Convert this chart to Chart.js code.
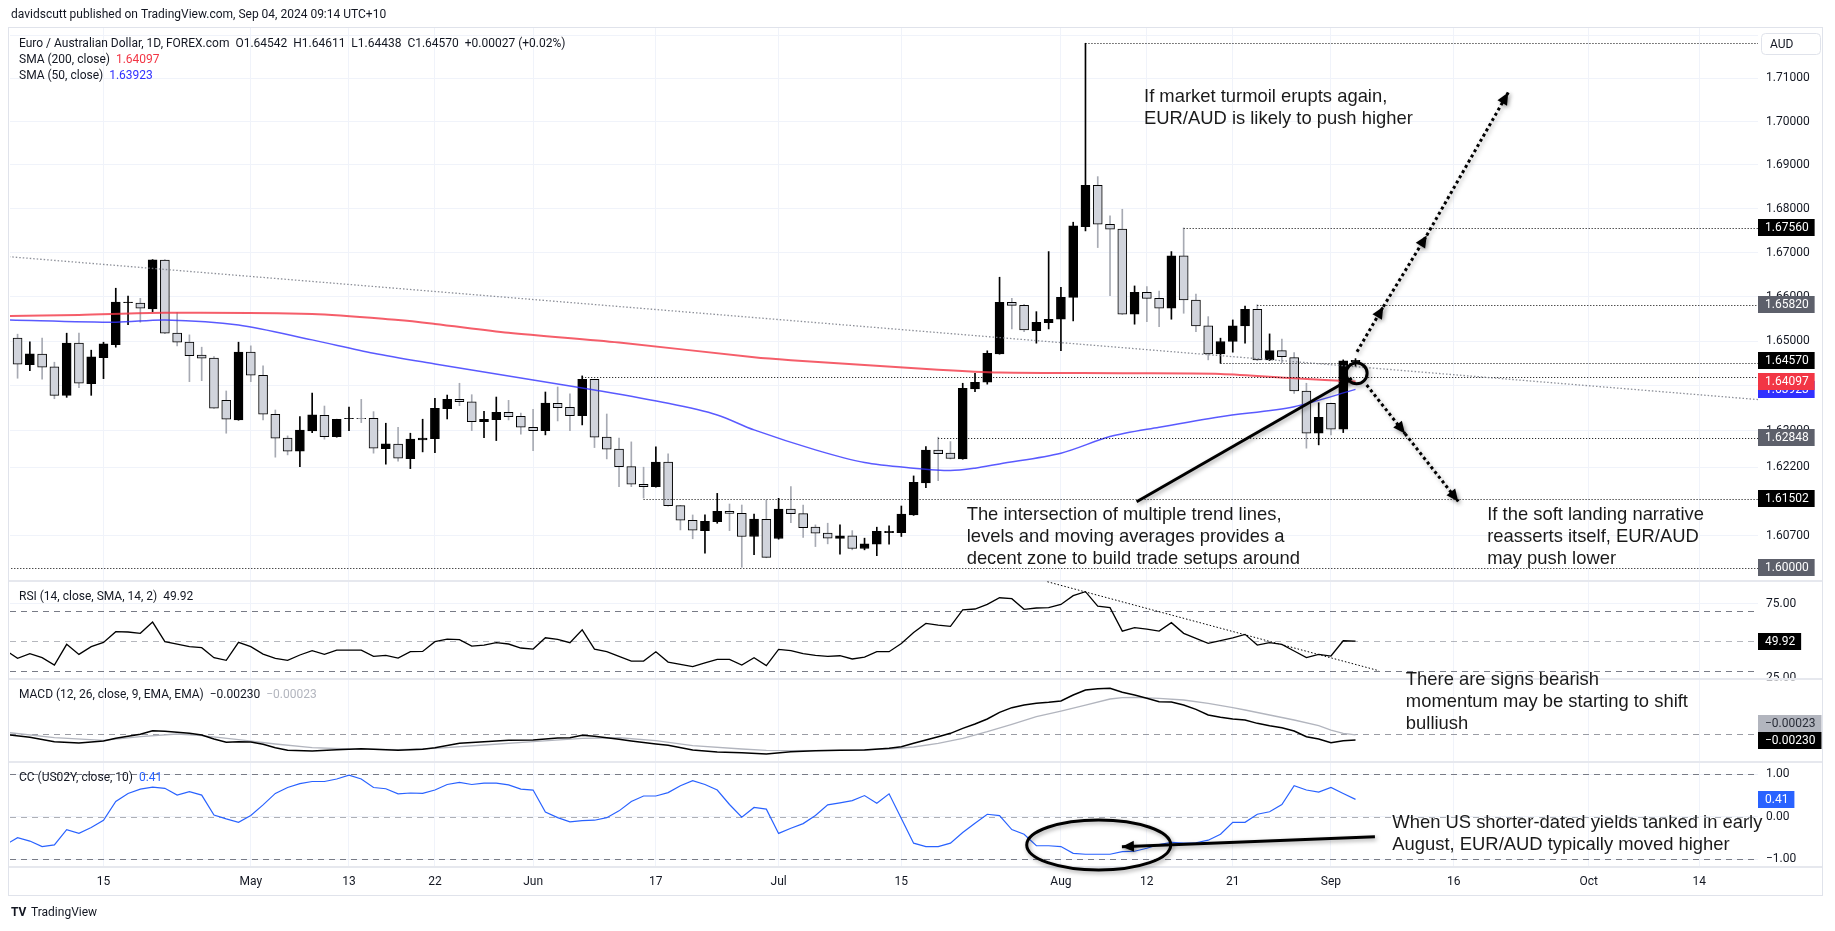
<!DOCTYPE html>
<html>
<head>
<meta charset="utf-8">
<title>EUR/AUD daily</title>
<script src="https://cdn.jsdelivr.net/npm/chart.js@4.4.1/dist/chart.umd.min.js"></script>
<style>
  html, body { margin: 0; padding: 0; background: #fff; }
  canvas { display: block; }
</style>
</head>
<body>
<canvas id="canvas" width="1835" height="931"></canvas>
<script>
// bars are counted in trading days from Apr 15 2024 (= 0); first entry is Apr 3
var firstBar = -8;

var opens = [null, 1.65068, 1.64477, 1.64710, 1.64425, 1.63791, 1.64956, 1.64051,
  1.64634, 1.64925, 1.65868, 1.65859, 1.65724, 1.66830, 1.65180, 1.64978, 1.64687, 1.64620,
  1.63679, 1.63244, 1.64754, 1.64239, 1.63370, 1.62840, 1.62553, 1.63001, 1.63348, 1.62875,
  1.63272, 1.63282, 1.63282, 1.62610, 1.62707, 1.62389, 1.62802, 1.62831, 1.63494, 1.63701,
  1.63648, 1.63207, 1.63251, 1.63414, 1.63326, 1.63083, 1.63008, 1.63613, 1.63525, 1.63339,
  1.64145, 1.62862, 1.62597, 1.62213, 1.61824, 1.61771, 1.62310, 1.61353, 1.61034, 1.60807,
  1.61003, 1.61230, 1.61186, 1.60679, 1.61055, 1.60635, 1.61281, 1.61178, 1.60882, 1.60751,
  1.60635, 1.60693, 1.60416, 1.60511, 1.60763, 1.60763, 1.61150, 1.61853, 1.62575, 1.62508,
  1.62383, 1.63933, 1.64082, 1.64716, 1.65874, 1.65807, 1.65238, 1.65418, 1.65494, 1.65987,
  1.67590, 1.68534, 1.67644, 1.67531, 1.65606, 1.66101, 1.65965, 1.65740, 1.66925, 1.65926,
  1.65344, 1.64716, 1.64994, 1.65344, 1.65718, 1.64582, 1.64790, 1.64634, 1.63888, 1.62950,
  1.63613, 1.63039, 1.64542];

var highs = [null, 1.65158, 1.64985, 1.65068, 1.64530, 1.65180, 1.65180, 1.64799,
  1.64978, 1.66192, 1.66017, 1.65965, 1.66840, 1.66842, 1.65642, 1.65142, 1.64866, 1.64656,
  1.63888, 1.64978, 1.64896, 1.64448, 1.63465, 1.62891, 1.63317, 1.63842, 1.63553, 1.63260,
  1.63531, 1.63701, 1.63428, 1.63171, 1.63083, 1.62950, 1.63260, 1.63724, 1.63797, 1.64060,
  1.63805, 1.63436, 1.63753, 1.63679, 1.63399, 1.63481, 1.63865, 1.63977, 1.63827, 1.64224,
  1.64150, 1.63376, 1.62840, 1.62758, 1.62199, 1.62648, 1.62493, 1.61360, 1.61150, 1.61150,
  1.61623, 1.61390, 1.61368, 1.61171, 1.61477, 1.61514, 1.61771, 1.61368, 1.60932, 1.60969,
  1.60932, 1.60807, 1.60642, 1.60882, 1.60910, 1.61346, 1.62007, 1.62655, 1.62862, 1.62765,
  1.64060, 1.64284, 1.64785, 1.66441, 1.65965, 1.65830, 1.65664, 1.67022, 1.66214, 1.67690,
  1.71818, 1.68732, 1.67833, 1.67985, 1.66244, 1.66228, 1.66130, 1.67022, 1.67560, 1.66060,
  1.65552, 1.65068, 1.65478, 1.65792, 1.65820, 1.65164, 1.65046, 1.64746, 1.64060, 1.63626,
  1.63620, 1.64582, 1.64611];

var lows = [null, 1.64172, 1.64342, 1.64150, 1.63715, 1.63746, 1.63962, 1.63791,
  1.64163, 1.64866, 1.65373, 1.65426, 1.65664, 1.65170, 1.64896, 1.64096, 1.64118, 1.63500,
  1.62950, 1.63238, 1.64096, 1.63244, 1.62420, 1.62471, 1.62213, 1.62964, 1.62818, 1.62862,
  1.63008, 1.63185, 1.62509, 1.62266, 1.62332, 1.62168, 1.62537, 1.62522, 1.63266, 1.63560,
  1.63008, 1.62853, 1.62787, 1.63244, 1.62928, 1.62566, 1.62913, 1.63222, 1.63008, 1.63134,
  1.62632, 1.62382, 1.61771, 1.61771, 1.61521, 1.61760, 1.61340, 1.60822, 1.60629, 1.60313,
  1.60968, 1.60807, 1.60008, 1.60283, 1.60215, 1.60620, 1.60981, 1.60657, 1.60459, 1.60518,
  1.60292, 1.60388, 1.60388, 1.60261, 1.60511, 1.60679, 1.61140, 1.61749, 1.61903, 1.62380,
  1.62375, 1.63873, 1.64040, 1.64710, 1.65276, 1.65216, 1.64956, 1.65276, 1.64790, 1.65456,
  1.67492, 1.67113, 1.66024, 1.65600, 1.65382, 1.65440, 1.65328, 1.65494, 1.65628, 1.65216,
  1.64582, 1.64508, 1.64754, 1.64956, 1.64567, 1.64567, 1.64522, 1.63836, 1.62619, 1.62692,
  1.62913, 1.62964, 1.64438];

var closes = [null, 1.64486, 1.64716, 1.64418, 1.63791, 1.64956, 1.64060, 1.64649,
  1.64940, 1.65881, 1.65878, 1.65740, 1.66834, 1.65180, 1.64978, 1.64678, 1.64620, 1.63503,
  1.63260, 1.64754, 1.64239, 1.63370, 1.62840, 1.62553, 1.63017, 1.63355, 1.62875, 1.63255,
  1.63282, 1.63272, 1.62619, 1.62714, 1.62398, 1.62818, 1.62840, 1.63503, 1.63701, 1.63648,
  1.63207, 1.63260, 1.63414, 1.63317, 1.63083, 1.63008, 1.63620, 1.63516, 1.63339, 1.64150,
  1.62862, 1.62597, 1.62213, 1.61824, 1.61771, 1.62310, 1.61353, 1.61034, 1.60816, 1.61012,
  1.61230, 1.61186, 1.60679, 1.61062, 1.60225, 1.61281, 1.61178, 1.60873, 1.60751, 1.60642,
  1.60693, 1.60416, 1.60518, 1.60794, 1.60794, 1.61171, 1.61868, 1.62575, 1.62500, 1.62390,
  1.63948, 1.64082, 1.64731, 1.65874, 1.65807, 1.65254, 1.65426, 1.65493, 1.65987, 1.67606,
  1.68534, 1.67644, 1.67531, 1.65606, 1.66101, 1.65965, 1.65740, 1.66925, 1.65926, 1.65344,
  1.64716, 1.64994, 1.65344, 1.65718, 1.64582, 1.64790, 1.64656, 1.63888, 1.62950, 1.63304,
  1.63039, 1.64560, 1.64570];

// [bar, value] readings of the moving averages
var sma200Pts = [[-8,1.65565],[-2,1.65590],[5,1.65640],[17,1.65612],[24,1.65475],[27,1.65388],[33,1.65190],
  [42,1.64970],[53,1.64640],[56,1.64575],[68,1.64362],[73,1.64298],[83,1.64284],[91,1.64269],[97,1.64172],[102,1.64097]];
var sma50Pts = [[-8,1.65480],[1,1.65426],[5,1.65478],[11,1.65366],[17,1.65030],[22,1.64732],[27,1.64492],[30,1.64358],
  [35,1.64134],[40,1.63910],[46,1.63613],[50,1.63355],[53,1.63023],[58,1.62581],[62,1.62301],[66,1.62177],[69,1.62124],
  [71,1.62177],[73,1.62272],[78,1.62508],[82,1.62875],[86,1.63083],[91,1.63317],[97,1.63538],[102,1.63923]];

var rsi = [44.0, 38.3, 41.5, 38.8, 33.8, 47.8, 41.0, 46.2,
  49.1, 56.3, 56.1, 55.2, 62.8, 49.6, 48.0, 46.2, 45.5, 38.8,
  37.0, 49.1, 46.2, 41.2, 38.3, 37.0, 40.6, 43.5, 41.0, 43.9,
  43.9, 43.9, 39.7, 40.3, 38.5, 42.8, 43.0, 49.6, 51.3, 50.9,
  46.6, 47.3, 48.9, 48.0, 45.3, 44.6, 52.2, 51.1, 48.9, 57.6,
  44.6, 42.8, 39.6, 36.5, 36.5, 42.8, 35.8, 34.3, 32.7, 35.2,
  37.6, 37.6, 33.8, 38.8, 33.4, 44.4, 43.5, 41.5, 40.3, 39.7,
  40.1, 37.9, 39.2, 42.8, 42.8, 48.4, 55.8, 61.9, 60.8, 59.9,
  71.1, 71.6, 74.7, 79.2, 78.6, 71.4, 72.3, 72.5, 74.7, 80.6,
  83.3, 73.6, 72.5, 56.7, 59.0, 58.1, 56.7, 62.4, 55.2, 51.8,
  48.4, 50.3, 52.2, 54.5, 47.3, 48.9, 47.8, 43.3, 38.8, 41.0,
  39.9, 50.2, 49.92];

var macdPts = [[-8,0.00000],[-6,-0.00122],[-4,-0.00297],[-2,-0.00351],[0,-0.00270],[1,-0.00163],[3,0.00000],[4,0.00147],
  [5,0.00120],[7,0.00039],[8,-0.00028],[9,-0.00190],[10,-0.00324],[11,-0.00297],[12,-0.00311],[13,-0.00405],[14,-0.00539],
  [15,-0.00647],[17,-0.00674],[19,-0.00620],[21,-0.00580],[23,-0.00620],[24,-0.00647],[26,-0.00607],[27,-0.00539],
  [29,-0.00364],[31,-0.00297],[33,-0.00243],[35,-0.00230],[37,-0.00149],[38,-0.00136],[39,-0.00042],[40,-0.00082],
  [42,-0.00203],[43,-0.00270],[45,-0.00391],[46,-0.00445],[48,-0.00634],[50,-0.00714],[52,-0.00741],[54,-0.00795],
  [56,-0.00701],[58,-0.00660],[60,-0.00647],[62,-0.00634],[64,-0.00566],[65,-0.00499],[66,-0.00364],[67,-0.00230],
  [68,-0.00096],[69,0.00039],[70,0.00241],[71,0.00416],[72,0.00618],[73,0.00886],[74,0.01075],[75,0.01182],[76,0.01250],
  [77,0.01290],[78,0.01344],[79,0.01586],[80,0.01788],[81,0.01842],[82,0.01856],[83,0.01694],[84,0.01586],[85,0.01452],
  [86,0.01317],[87,0.01304],[88,0.01182],[89,0.01007],[90,0.00779],[91,0.00690],[92,0.00618],[93,0.00577],[94,0.00442],
  [95,0.00348],[96,0.00268],[97,0.00133],[98,-0.00096],[99,-0.00190],[100,-0.00338],[101,-0.00257],[102,-0.00230]];
var signalPts = [[-8,0.00085],[-4,-0.00136],[0,-0.00243],[3,-0.00095],[6,0.00012],[8,-0.00055],[11,-0.00217],[14,-0.00391],
  [17,-0.00539],[20,-0.00593],[24,-0.00620],[27,-0.00566],[31,-0.00432],[35,-0.00297],[39,-0.00163],[42,-0.00140],
  [45,-0.00257],[48,-0.00459],[52,-0.00593],[54,-0.00647],[56,-0.00660],[60,-0.00647],[64,-0.00593],[66,-0.00512],
  [68,-0.00364],[70,-0.00163],[72,0.00106],[74,0.00402],[76,0.00712],[78,0.00940],[80,0.01182],[82,0.01425],[83,0.01479],
  [84,0.01492],[86,0.01452],[88,0.01384],[90,0.01250],[92,0.01075],[93,0.00981],[95,0.00779],[97,0.00577],[99,0.00348],
  [100,0.00173],[101,0.00040],[102,-0.00023]];

var cc = [-0.66, -0.49, -0.57, -0.70, -0.66, -0.30, -0.39, -0.25,
  -0.08, 0.36, 0.55, 0.65, 0.70, 0.67, 0.51, 0.59, 0.51, 0.04,
  -0.05, -0.13, 0.03, 0.28, 0.55, 0.69, 0.78, 0.83, 0.83, 0.89,
  0.98, 0.89, 0.69, 0.66, 0.54, 0.56, 0.55, 0.63, 0.76, 0.81,
  0.76, 0.79, 0.79, 0.75, 0.65, 0.63, 0.11, -0.02, -0.12, -0.09,
  -0.08, -0.02, 0.14, 0.36, 0.49, 0.49, 0.57, 0.73, 0.85, 0.76,
  0.63, 0.29, -0.01, 0.22, 0.18, -0.39, -0.27, -0.16, 0.03, 0.28,
  0.33, 0.38, 0.50, 0.32, 0.54, -0.04, -0.62, -0.70, -0.70, -0.62,
  -0.37, -0.15, 0.06, 0.03, -0.30, -0.41, -0.68, -0.68, -0.70, -0.86,
  -0.88, -0.88, -0.88, -0.82, -0.81, -0.74, -0.65, -0.60, -0.62, -0.61,
  -0.55, -0.41, -0.13, -0.13, 0.06, 0.12, 0.29, 0.73, 0.63, 0.58,
  0.69, 0.55, 0.41];

var tickBars = [0, 12, 20, 27, 35, 45, 55, 65, 78, 85, 92, 100, 110, 121, 130];
var tickLabels = ['15', 'May', '13', '22', 'Jun', '17', 'Jul', '15', 'Aug', '12', '21', 'Sep', '16', 'Oct', '14'];
var priceTicks = [1.72, 1.71, 1.70, 1.69, 1.68, 1.67, 1.66, 1.65, 1.64, 1.63, 1.622, 1.607];
var rsiTicks = [75, 25];
var ccTicks = [1, 0, -1];

// horizontal rays drawn on the chart: price and the bar they start from
var levelPrices = [1.71818, 1.67560, 1.65820, 1.64508, 1.64206, 1.62848, 1.61502, 1.60000];
var levelStarts = [80, 88, 94, 91, 39, 68, 44, -8];
var levelLabelled = [false, true, true, false, false, true, true, true];

var trendBars = [-8, 135];
var trendPrices = [1.66913, 1.63692];
var rsiTrendBars = [76.9, 103.9];
var rsiTrendVals = [90, 30];

var arrowMain = [[84.17, 1.61440], [101.69, 1.64170]];
var circleMain = [102.09, 1.64281];
var upPath = [[102.12, 1.64764], [104.26, 1.65775], [107.80, 1.67389], [114.44, 1.70672]];
var downPath = [[102.91, 1.64021], [106.03, 1.62941], [110.37, 1.61447]];
var ccEllipse = [81.08, -0.66];
var ccArrow = [[103.58, -0.468], [82.97, -0.703]];

var notes = [
  { axis: 'y', bar: 84.77, v: 1.70575, lines: ['If market turmoil erupts again,', 'EUR/AUD is likely to push higher'] },
  { axis: 'y', bar: 70.32, v: 1.61148, lines: ['The intersection of multiple trend lines,', 'levels and moving averages provides a', 'decent zone to build trade setups around'] },
  { axis: 'y', bar: 112.73, v: 1.61148, lines: ['If the soft landing narrative', 'reasserts itself, EUR/AUD', 'may push lower'] },
  { axis: 'macd', bar: 106.1, v: 0.0219, lines: ['There are signs bearish', 'momentum may be starting to shift', 'bulliush'] },
  { axis: 'cc', bar: 105.0, v: -0.153, lines: ['When US shorter-dated yields tanked in early', 'August, EUR/AUD typically moved higher'] }
];

var UI = 'Roboto, "Liberation Sans", sans-serif';
var TXT = '#131722';
var last = opens.length - 1;

var wickData = [], bodyData = [], wickColors = [], bodyColors = [];
for (var k = 0; k < opens.length; k++) {
  if (opens[k] === null) continue;
  var b = firstBar + k;
  var up = closes[k] >= opens[k];
  wickData.push({ x: b, y: [lows[k], highs[k]] });
  bodyData.push({ x: b, y: [Math.min(opens[k], closes[k]), Math.max(opens[k], closes[k])] });
  wickColors.push(up ? '#000000' : '#a7aab3');
  bodyColors.push(up ? '#000000' : '#d1d4dc');
}
function pairs(p) { return p.map(function (e) { return { x: e[0], y: e[1] }; }); }
function series(arr) { return arr.map(function (v, k) { return { x: firstBar + k, y: v }; }); }

function fixWidth(s) { s.width = 65; }
function fmtMinus(s) { return s.replace('-', '\u2212'); }

var overlay = {
  id: 'overlay',
  beforeDraw: function (chart) {
    var ctx = chart.ctx;
    ctx.save();
    ctx.fillStyle = '#ffffff';
    ctx.fillRect(0, 0, chart.width, chart.height);
    ctx.restore();
  },
  beforeDatasetsDraw: function (chart) {
    var ctx = chart.ctx, ca = chart.chartArea, s = chart.scales;
    ctx.save();
    // frame and pane separators
    ctx.strokeStyle = '#e0e3eb';
    ctx.lineWidth = 1;
    ctx.strokeRect(8.5, ca.top + 0.5, 1814, 868);
    ctx.lineWidth = 2;
    ctx.strokeStyle = '#e6e8ee';
    [s.rsi.top, s.macd.top, s.cc.top, s.cc.bottom].forEach(function (y) {
      ctx.beginPath();
      ctx.moveTo(9, Math.round(y));
      ctx.lineTo(1822, Math.round(y));
      ctx.stroke();
    });
    // hide the part of the 25.00 tick below the RSI pane
    ctx.fillStyle = '#fff';
    ctx.fillRect(ca.right, s.macd.top + 1, 64, 9);

    function band(scale, v, color) {
      var y = Math.round(scale.getPixelForValue(v)) + 0.5;
      ctx.beginPath();
      ctx.setLineDash([6, 5]);
      ctx.strokeStyle = color;
      ctx.lineWidth = 1;
      ctx.moveTo(ca.left, y);
      ctx.lineTo(ca.right, y);
      ctx.stroke();
    }
    band(s.rsi, 70, '#787b86');
    band(s.rsi, 50, 'rgba(120,123,134,0.55)');
    band(s.rsi, 30, '#787b86');
    band(s.macd, 0, 'rgba(120,123,134,0.75)');
    band(s.cc, 1, '#787b86');
    band(s.cc, 0, 'rgba(120,123,134,0.6)');
    band(s.cc, -1, '#787b86');
    ctx.restore();
  },
  afterDatasetsDraw: function (chart) {
    var ctx = chart.ctx, ca = chart.chartArea, s = chart.scales;
    var X = function (b) { return s.x.getPixelForValue(b); };
    ctx.save();
    ctx.beginPath();
    ctx.rect(ca.left, ca.top, ca.right - ca.left, ca.bottom - ca.top);
    ctx.clip();

    // horizontal rays
    ctx.setLineDash([1, 2]);
    ctx.strokeStyle = '#000';
    ctx.lineWidth = 1;
    for (var i = 0; i < levelPrices.length; i++) {
      var y = Math.round(s.y.getPixelForValue(levelPrices[i])) + 0.5;
      ctx.beginPath();
      ctx.moveTo(X(levelStarts[i]), y);
      ctx.lineTo(ca.right, y);
      ctx.stroke();
    }
    // grey trend line on price
    ctx.strokeStyle = 'rgba(120,123,134,0.85)';
    ctx.lineWidth = 1.3;
    ctx.setLineDash([1.5, 2]);
    ctx.beginPath();
    ctx.moveTo(X(trendBars[0]), s.y.getPixelForValue(trendPrices[0]));
    ctx.lineTo(X(trendBars[1]), s.y.getPixelForValue(trendPrices[1]));
    ctx.stroke();
    // RSI trend line
    ctx.strokeStyle = '#000';
    ctx.lineWidth = 1;
    ctx.setLineDash([1.5, 2]);
    ctx.beginPath();
    ctx.moveTo(X(rsiTrendBars[0]), s.rsi.getPixelForValue(rsiTrendVals[0]));
    ctx.lineTo(X(rsiTrendBars[1]), s.rsi.getPixelForValue(rsiTrendVals[1]));
    ctx.stroke();
    ctx.restore();

    // drawings with shadow
    ctx.save();
    ctx.shadowColor = 'rgba(0,0,0,0.35)';
    ctx.shadowBlur = 4;
    ctx.shadowOffsetX = 1.5;
    ctx.shadowOffsetY = 2;
    ctx.fillStyle = '#000';
    ctx.strokeStyle = '#000';
    function head(x0, y0, x1, y1, len, half) {
      var a = Math.atan2(y1 - y0, x1 - x0);
      ctx.setLineDash([]);
      ctx.beginPath();
      ctx.moveTo(x1, y1);
      ctx.lineTo(x1 - len * Math.cos(a) + half * Math.sin(a), y1 - len * Math.sin(a) - half * Math.cos(a));
      ctx.lineTo(x1 - len * Math.cos(a) - half * Math.sin(a), y1 - len * Math.sin(a) + half * Math.cos(a));
      ctx.closePath();
      ctx.fill();
    }
    function seg(axis, p0, p1, dashed) {
      var x0 = X(p0[0]), y0 = s[axis].getPixelForValue(p0[1]);
      var x1 = X(p1[0]), y1 = s[axis].getPixelForValue(p1[1]);
      ctx.lineWidth = 3;
      ctx.setLineDash(dashed ? [3, 3] : []);
      ctx.beginPath();
      ctx.moveTo(x0, y0);
      ctx.lineTo(x1, y1);
      ctx.stroke();
      head(x0, y0, x1, y1, 12, 5.5);
    }
    seg('y', arrowMain[0], arrowMain[1], false);
    for (var u = 0; u < upPath.length - 1; u++) seg('y', upPath[u], upPath[u + 1], true);
    for (var d = 0; d < downPath.length - 1; d++) seg('y', downPath[d], downPath[d + 1], true);
    ctx.setLineDash([]);
    ctx.lineWidth = 3;
    ctx.beginPath();
    ctx.arc(X(circleMain[0]), s.y.getPixelForValue(circleMain[1]), 10.5, 0, Math.PI * 2);
    ctx.stroke();
    ctx.beginPath();
    ctx.ellipse(X(ccEllipse[0]), s.cc.getPixelForValue(ccEllipse[1]), 72, 25, 0, 0, Math.PI * 2);
    ctx.stroke();
    seg('cc', ccArrow[0], ccArrow[1], false);
    ctx.restore();

    // text notes
    ctx.save();
    ctx.fillStyle = '#1a1a1a';
    ctx.font = '18.4px "Liberation Sans", Arial, sans-serif';
    ctx.textBaseline = 'middle';
    ctx.textAlign = 'left';
    notes.forEach(function (n) {
      var x = X(n.bar), y = s[n.axis].getPixelForValue(n.v);
      n.lines.forEach(function (t, j) { ctx.fillText(t, x, y + j * 22); });
    });
    ctx.restore();
  },
  afterDraw: function (chart) {
    var ctx = chart.ctx, ca = chart.chartArea, s = chart.scales;
    ctx.save();
    // price boxes on the axis
    ctx.font = '12px ' + UI;
    ctx.textBaseline = 'middle';
    ctx.textAlign = 'left';
    function box(y, text, bg, fg, minW) {
      var w = Math.max(ctx.measureText(text).width + 13, minW || 0);
      ctx.fillStyle = bg;
      ctx.fillRect(ca.right, Math.round(y - 8.5), w, 17);
      ctx.fillStyle = fg;
      ctx.fillText(text, ca.right + 7, Math.round(y - 8.5) + 9);
    }
    var levelBg = ['#000', '#000', '#5d606b', '#000', '#000', '#5d606b', '#000', '#5d606b'];
    for (var i = 0; i < levelPrices.length; i++) {
      if (!levelLabelled[i]) continue;
      box(s.y.getPixelForValue(levelPrices[i]), levelPrices[i].toFixed(5), levelBg[i], '#fff');
    }
    var sma50Last = sma50Pts[sma50Pts.length - 1][1], sma200Last = sma200Pts[sma200Pts.length - 1][1];
    box(s.y.getPixelForValue(sma50Last), sma50Last.toFixed(5), '#3131ff', '#fff');
    box(s.y.getPixelForValue(sma200Last), sma200Last.toFixed(5), '#f23645', '#fff');
    box(s.y.getPixelForValue(closes[last]), closes[last].toFixed(5), '#000', '#fff');

    box(s.rsi.getPixelForValue(rsi[last]), rsi[last].toFixed(2), '#000', '#fff');
    var macdLast = macdPts[macdPts.length - 1][1], sigLast = signalPts[signalPts.length - 1][1];
    var yM = s.macd.getPixelForValue(macdLast), yS = s.macd.getPixelForValue(sigLast);
    if (Math.abs(yS - yM) < 17) yS = yM - 17;
    box(yS, fmtMinus(sigLast.toFixed(5)), '#b2b5be', '#2a2e39');
    box(yM, fmtMinus(macdLast.toFixed(5)), '#000', '#fff');
    box(s.cc.getPixelForValue(cc[last]), cc[last].toFixed(2), '#2962ff', '#fff');

    // currency box
    ctx.fillStyle = '#fff';
    ctx.strokeStyle = '#e0e3eb';
    ctx.lineWidth = 1;
    ctx.beginPath();
    ctx.roundRect(1761.5, 33.5, 59, 21, 4);
    ctx.fill();
    ctx.stroke();
    ctx.fillStyle = TXT;
    ctx.fillText('AUD', 1770, 44.5);

    // legends
    var lx = ca.left + 9;
    ctx.font = '12px ' + UI;
    function parts(y, list) {
      var x = lx;
      list.forEach(function (p) {
        ctx.fillStyle = p[1];
        ctx.fillText(p[0], x, y);
        x += ctx.measureText(p[0]).width;
      });
    }
    parts(s.y.top + 16.5, [['Euro / Australian Dollar, 1D, FOREX.com  O' + opens[last].toFixed(5) + '  H' + highs[last].toFixed(5) +
      '  L' + lows[last].toFixed(5) + '  C' + closes[last].toFixed(5) + '  +0.00027 (+0.02%)', TXT]]);
    parts(s.y.top + 32.5, [['SMA (200, close)  ', TXT], [sma200Last.toFixed(5), '#f23645']]);
    parts(s.y.top + 49, [['SMA (50, close)  ', TXT], [sma50Last.toFixed(5), '#3131ff']]);
    parts(s.rsi.top + 16, [['RSI (14, close, SMA, 14, 2)  ' + rsi[last].toFixed(2), TXT]]);
    parts(s.macd.top + 16, [['MACD (12, 26, close, 9, EMA, EMA)  ', TXT], [fmtMinus(macdLast.toFixed(5)) + '  ', TXT],
      [fmtMinus(sigLast.toFixed(5)), '#b2b5be']]);
    parts(s.cc.top + 15.5, [['CC (US02Y, close, 10)  ', TXT], [cc[last].toFixed(2), '#2962ff']]);

    // header and footer
    ctx.fillStyle = TXT;
    ctx.font = '12px ' + UI;
    ctx.fillText('davidscutt published on TradingView.com, Sep 04, 2024 09:14 UTC+10', 11, 15);
    ctx.font = 'bold 12px ' + UI;
    ctx.fillText('TV', 11, 913);
    ctx.font = '12px ' + UI;
    ctx.fillText('TradingView', 31, 913);
    ctx.restore();
  }
};

var gridColor = '#f0f3fa';
var tickFont = { family: UI, size: 12 };

new Chart(document.getElementById('canvas').getContext('2d'), {
  type: 'line',
  data: {
    datasets: [
      { type: 'line', label: 'SMA 200', data: pairs(sma200Pts), yAxisID: 'y', borderColor: 'rgba(242,54,69,0.8)', borderWidth: 2, pointRadius: 0, tension: 0.3, spanGaps: true },
      { type: 'line', label: 'SMA 50', data: pairs(sma50Pts), yAxisID: 'y', borderColor: 'rgba(49,49,255,0.8)', borderWidth: 1.5, pointRadius: 0, tension: 0.3, spanGaps: true },
      { type: 'bar', label: 'body', data: bodyData, yAxisID: 'y', backgroundColor: bodyColors, borderColor: '#000', borderWidth: 1, borderSkipped: false, barThickness: 9, grouped: false },
      { type: 'bar', label: 'wick', data: wickData, yAxisID: 'y', backgroundColor: wickColors, borderWidth: 0, barThickness: 1, grouped: false },
      { type: 'line', label: 'RSI', data: series(rsi), yAxisID: 'rsi', borderColor: '#000', borderWidth: 1.3, pointRadius: 0, tension: 0 },
      { type: 'line', label: 'MACD', data: pairs(macdPts), yAxisID: 'macd', borderColor: '#000', borderWidth: 1.5, pointRadius: 0, tension: 0, spanGaps: true },
      { type: 'line', label: 'Signal', data: pairs(signalPts), yAxisID: 'macd', borderColor: '#b2b5be', borderWidth: 1.3, pointRadius: 0, tension: 0, spanGaps: true },
      { type: 'line', label: 'CC', data: series(cc), yAxisID: 'cc', borderColor: '#2962ff', borderWidth: 1.2, pointRadius: 0, tension: 0 }
    ]
  },
  options: {
    responsive: false,
    animation: false,
    events: [],
    devicePixelRatio: 1,
    layout: { padding: { top: 27, left: 10, right: 12, bottom: 36 } },
    plugins: { legend: { display: false }, tooltip: { enabled: false } },
    scales: {
      x: {
        type: 'linear', position: 'bottom', min: -7.617, max: 134.79, offset: false,
        grid: { color: gridColor, drawTicks: false, offset: false },
        border: { display: false },
        afterBuildTicks: function (s) { s.ticks = tickBars.map(function (v) { return { value: v }; }); },
        afterFit: function (s) { s.height = 28; },
        ticks: {
          autoSkip: false, maxRotation: 0, minRotation: 0, padding: 8, color: TXT, font: tickFont,
          callback: function (v) { var j = tickBars.indexOf(v); return j < 0 ? '' : tickLabels[j]; }
        }
      },
      y: {
        type: 'logarithmic', position: 'right', stack: 'panes', stackWeight: 554, offset: false,
        min: 1.59710, max: 1.72198,
        grid: { color: gridColor, drawTicks: false },
        border: { display: false },
        afterBuildTicks: function (s) { s.ticks = priceTicks.map(function (v) { return { value: v }; }); },
        afterFit: fixWidth,
        ticks: {
          padding: 8, color: TXT, font: tickFont,
          callback: function (v) { return Math.abs(v - 1.72) < 1e-9 ? '' : Number(v).toFixed(5); }
        }
      },
      rsi: {
        type: 'linear', position: 'right', stack: 'panes', stackWeight: 98.3, offset: false,
        min: 24.2, max: 90.5,
        grid: { color: gridColor, drawTicks: false },
        border: { display: false },
        afterBuildTicks: function (s) { s.ticks = rsiTicks.map(function (v) { return { value: v }; }); },
        afterFit: fixWidth,
        ticks: { padding: 8, color: TXT, font: tickFont, callback: function (v) { return Number(v).toFixed(2); } }
      },
      macd: {
        type: 'linear', position: 'right', stack: 'panes', stackWeight: 83, offset: false,
        min: -0.0113, max: 0.0222,
        grid: { display: false, drawTicks: false },
        border: { display: false },
        afterFit: fixWidth,
        ticks: { display: false }
      },
      cc: {
        type: 'linear', position: 'right', stack: 'panes', stackWeight: 104.7, offset: false,
        min: -1.18, max: 1.282,
        grid: { color: gridColor, drawTicks: false },
        border: { display: false },
        afterBuildTicks: function (s) { s.ticks = ccTicks.map(function (v) { return { value: v }; }); },
        afterFit: fixWidth,
        ticks: { padding: 8, color: TXT, font: tickFont, callback: function (v) { return fmtMinus(Number(v).toFixed(2)); } }
      }
    }
  },
  plugins: [overlay]
});
</script>
</body>
</html>
